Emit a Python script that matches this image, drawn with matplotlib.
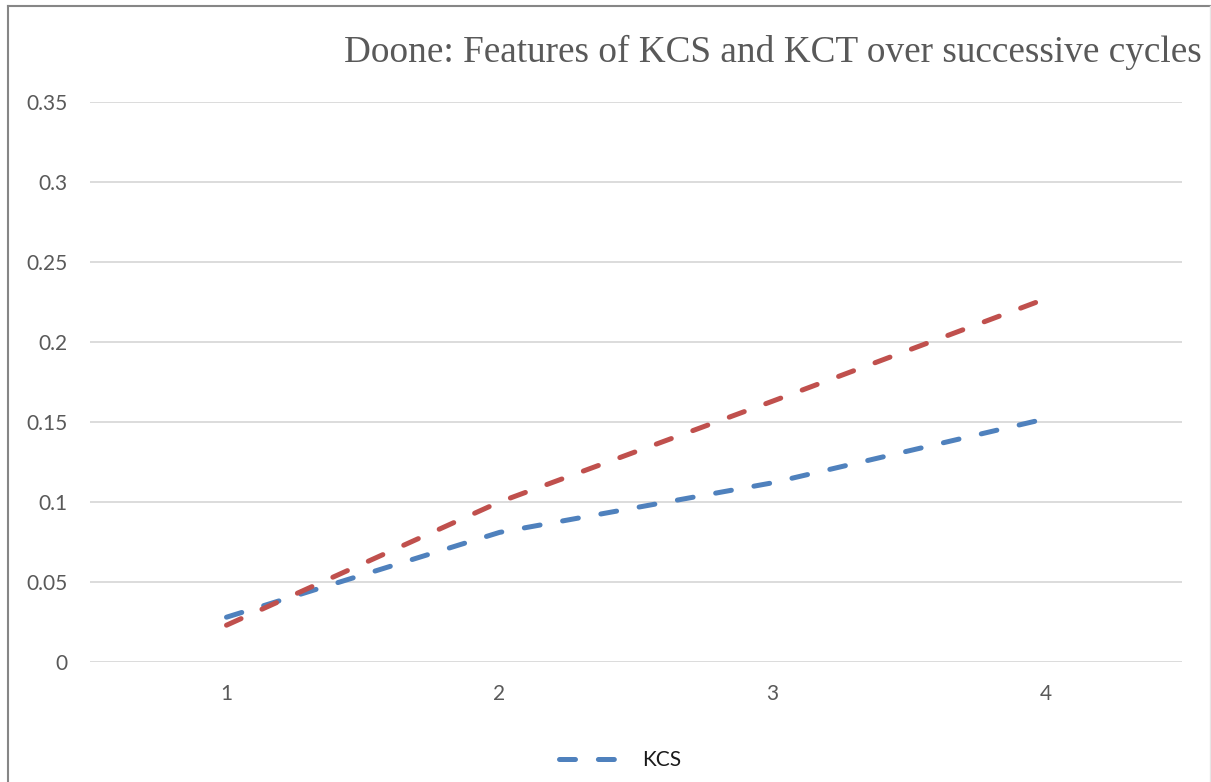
import matplotlib
matplotlib.use("Agg")
import matplotlib.pyplot as plt
from matplotlib.lines import Line2D

cycles = [1, 2, 3, 4]
kcs = [0.028, 0.081, 0.112, 0.152]
kct = [0.023, 0.100, 0.163, 0.227]
yticks = [0, 0.05, 0.1, 0.15, 0.2, 0.25, 0.3, 0.35]
ytick_labels = ["0", "0.05", "0.1", "0.15", "0.2", "0.25", "0.3", "0.35"]
title = "Doone: Features of KCS and KCT over successive cycles"

plt.rcParams['lines.scale_dashes'] = False
W, H = 1211, 782
fig = plt.figure(figsize=(W / 100, H / 100), dpi=100)
ax = fig.add_axes([90 / W, 1 - 662 / H, (1182 - 90) / W, (662 - 102) / H])

dash = (11.5, 16.5)
ax.plot(cycles, kcs, color="#4F81BD", lw=3.6, dashes=dash,
        dash_capstyle="round", solid_capstyle="round", label="KCS", zorder=3)
ax.plot(cycles, kct, color="#C0504D", lw=3.6, dashes=dash,
        dash_capstyle="round", solid_capstyle="round", label="KCT", zorder=3)

ax.set_xlim(0.5, 4.5)
ax.set_ylim(0, 0.35)
ax.set_xticks(cycles)
ax.set_xticklabels([str(c) for c in cycles])
ax.set_yticks(yticks)
ax.set_yticklabels(ytick_labels)
ax.grid(axis="y", color="#D9D9D9", lw=1.3)
ax.set_axisbelow(True)
for s in ax.spines.values():
    s.set_visible(False)
ax.tick_params(axis="both", length=0, labelsize=15, labelcolor="#595959")
ax.tick_params(axis="y", pad=16)
ax.tick_params(axis="x", pad=16)
for lab in ax.get_xticklabels() + ax.get_yticklabels():
    lab.set_family(["Lato", "DejaVu Sans"])

fig.text(1202 / W, 1 - 62 / H, title, ha="right", va="baseline",
         family=["Liberation Serif"], fontsize=26.8, color="#595959")

handle = Line2D([], [], color="#4F81BD", lw=3.6, dashes=dash, dash_capstyle="round")
leg = fig.legend(handles=[handle], labels=["KCS"], loc="center",
                 bbox_to_anchor=(620 / W, 1 - 760 / H), frameon=False,
                 handlelength=3.2, prop={"family": "Lato", "size": 15})
for t in leg.get_texts():
    t.set_color("#1a1a1a")

# chart border
fig.add_artist(Line2D([8 / W, 8 / W], [0, 1 - 6 / H], transform=fig.transFigure,
                      color="#868686", lw=1.5))
fig.add_artist(Line2D([8 / W, 1210 / W], [1 - 6 / H, 1 - 6 / H], transform=fig.transFigure,
                      color="#868686", lw=1.5))
fig.add_artist(Line2D([1210 / W, 1210 / W], [0, 1 - 6 / H], transform=fig.transFigure,
                      color="#E6E6E6", lw=1.0))

fig.savefig("out.png", dpi=100)
